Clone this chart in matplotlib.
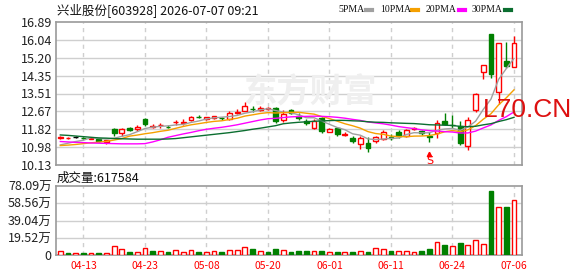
import matplotlib
matplotlib.use("Agg")
import matplotlib.pyplot as plt
from matplotlib.lines import Line2D
import numpy as np
import pandas as pd

plt.rcParams['font.family'] = ['Noto Sans CJK SC', 'DejaVu Sans']

# ---------------- data ----------------
dates = ["04-08", "04-09", "04-10", "04-13", "04-14", "04-15", "04-16", "04-17", "04-20", "04-21",
         "04-22", "04-23", "04-24", "04-27", "04-28", "04-29", "04-30", "05-06", "05-07", "05-08",
         "05-11", "05-12", "05-13", "05-14", "05-15", "05-18", "05-19", "05-20", "05-21", "05-22",
         "05-25", "05-26", "05-27", "05-28", "05-29", "06-01", "06-02", "06-03", "06-04", "06-05",
         "06-08", "06-09", "06-10", "06-11", "06-12", "06-15", "06-16", "06-17", "06-18", "06-22",
         "06-23", "06-24", "06-25", "06-26", "06-29", "06-30", "07-01", "07-02", "07-03", "07-06"]

open_ = [11.42, 11.41, 11.46, 11.41, 11.38, 11.35, 11.23, 11.82, 11.66, 11.90,
         11.82, 12.29, 11.93, 12.00, 11.93, 12.15, 12.10, 12.26, 12.40, 12.32,
         12.34, 12.36, 12.31, 12.58, 12.70, 12.80, 12.71, 12.79, 12.84, 12.25,
         12.71, 12.44, 12.22, 11.90, 12.33, 11.71, 11.87, 11.55, 11.40, 11.14,
         11.16, 11.25, 11.35, 11.45, 11.68, 11.48, 11.84, 11.75, 11.50, 11.63,
         12.22, 12.04, 11.97, 11.03, 12.73, 14.51, 16.32, 13.60, 15.05, 14.75]
high = [11.48, 11.47, 11.50, 11.45, 11.44, 11.38, 11.33, 11.90, 11.86, 11.93,
        12.04, 12.33, 12.05, 12.10, 12.02, 12.24, 12.30, 12.45, 12.50, 12.42,
        12.47, 12.40, 12.68, 12.77, 13.12, 12.92, 12.93, 12.88, 12.88, 12.72,
        12.76, 12.58, 12.30, 12.30, 12.40, 11.86, 11.93, 11.70, 11.48, 11.50,
        11.45, 11.52, 11.80, 11.60, 11.80, 11.82, 11.92, 11.80, 11.70, 12.25,
        12.60, 12.50, 12.22, 12.40, 13.55, 14.86, 16.33, 15.90, 15.95, 16.24]
low = [11.38, 11.37, 11.42, 11.36, 11.34, 11.22, 11.14, 11.50, 11.52, 11.76,
       11.76, 11.98, 11.88, 11.87, 11.86, 12.03, 12.02, 12.22, 12.33, 12.28,
       12.31, 12.28, 12.28, 12.52, 12.68, 12.64, 12.66, 12.72, 12.12, 12.16,
       12.55, 12.28, 12.00, 11.85, 11.66, 11.68, 11.50, 11.48, 11.15, 10.90,
       10.74, 11.18, 11.30, 11.33, 11.42, 11.45, 11.80, 11.55, 11.20, 11.40,
       12.00, 11.88, 11.07, 10.82, 12.65, 14.20, 14.22, 13.03, 14.70, 14.75]
close = [11.44, 11.43, 11.46, 11.39, 11.40, 11.25, 11.30, 11.64, 11.83, 11.80,
         11.95, 12.05, 11.96, 12.03, 11.91, 12.17, 12.18, 12.41, 12.38, 12.39,
         12.44, 12.33, 12.57, 12.63, 12.92, 12.77, 12.81, 12.82, 12.20, 12.55,
         12.60, 12.35, 12.11, 12.22, 11.76, 11.83, 11.60, 11.59, 11.25, 11.43,
         10.95, 11.44, 11.71, 11.41, 11.52, 11.78, 11.87, 11.65, 11.46, 12.13,
         12.05, 12.01, 11.19, 12.26, 13.48, 14.84, 14.44, 15.88, 14.80, 15.88]

# volume in 万 shares
volume = [4.5, 2.6, 2.6, 2.6, 2.6, 2.6, 2.6, 10.1, 6.8, 3.6,
          3.2, 7.9, 4.9, 4.5, 3.6, 5.6, 3.4, 5.3, 3.6, 3.2,
          4.5, 3.6, 5.6, 5.6, 8.6, 6.8, 4.5, 3.6, 6.8, 5.6,
          3.8, 4.9, 4.9, 4.5, 4.9, 3.4, 3.4, 3.4, 3.8, 4.5,
          3.8, 7.9, 6.8, 4.9, 4.5, 4.5, 3.4, 4.9, 6.8, 14.6,
          11.3, 10.1, 13.9, 11.3, 16.9, 12.4, 72.2, 54.2, 54.1, 61.7584]
# 1 = up volume (red), 0 = down volume (green)
vol_up = [1, 0, 1, 0, 1, 0, 1, 1, 1, 0,
          1, 1, 0, 1, 0, 1, 1, 1, 0, 1,
          1, 0, 1, 1, 1, 0, 1, 0, 0, 1,
          0, 0, 0, 1, 0, 1, 0, 1, 0, 1,
          0, 1, 1, 0, 1, 1, 1, 0, 0, 1,
          0, 1, 0, 1, 1, 1, 0, 1, 0, 1]

# moving-average values before each window is complete
ma5_head = [11.08, 11.16, 11.24, 11.30]
ma10_head = [11.05, 11.07, 11.10, 11.14, 11.18, 11.21, 11.25, 11.31, 11.38]
ma20_head = [11.24, 11.22, 11.20, 11.19, 11.17, 11.16, 11.15, 11.14, 11.13, 11.13,
             11.13, 11.14, 11.22, 11.32, 11.44, 11.52, 11.60, 11.67, 11.75]
ma30_head = [11.55, 11.53, 11.50, 11.47, 11.44, 11.41, 11.40, 11.38, 11.37, 11.36,
             11.35, 11.35, 11.35, 11.35, 11.36, 11.38, 11.42, 11.46, 11.50, 11.54,
             11.58, 11.62, 11.66, 11.71, 11.76, 11.82, 11.87, 11.93, 11.99]

price_tick_labels = ["10.13", "10.98", "11.82", "12.67", "13.51", "14.35", "15.20", "16.04", "16.89"]
vol_tick_labels = ["0", "19.52万", "39.04万", "58.56万", "78.09万"]
x_tick_labels = ["04-13", "04-23", "05-08", "05-20", "06-01", "06-11", "06-24", "07-06"]
signal_idx = [48]
last_volume = 617584

title = "兴业股份[603928] 2026-07-07 09:21"
ma_names = ["5PMA", "10PMA", "20PMA", "30PMA"]
ma_colors = ["#a0a0a0", "#f5a000", "#ff00ff", "#0b6e30"]

# ---------------- figure ----------------
W, H = 578, 276
fig = plt.figure(figsize=(W / 100, H / 100), dpi=100)
fig.patch.set_facecolor("white")

def fx(px):
    return px / W

def fy(py):
    return 1 - py / H

L, R = 56, 522
ax = fig.add_axes([fx(L), fy(165), fx(R - L), (165 - 22) / H])
axv = fig.add_axes([fx(L), fy(255), fx(R - L), (255 - 186) / H])

n = len(close)
xs = np.arange(n)
RED = "#ff0000"
GREEN = "#008000"
GRID = "#cfcfcf"
SPINE = "#9a9a9a"

price_ticks = [float(t) for t in price_tick_labels]
vol_ticks = [float(t.replace("万", "")) for t in vol_tick_labels]
xtick_pos = [dates.index(d) for d in x_tick_labels]

for a in (ax, axv):
    a.set_xlim(-0.56, n + 0.04)
    for s in a.spines.values():
        s.set_color(SPINE)
        s.set_linewidth(1.2)
    for p in xtick_pos:
        a.axvline(p, color=GRID, lw=1, ls=(0, (3, 3)), zorder=0)
    a.tick_params(length=0, pad=3)

ax.set_ylim(price_ticks[0], price_ticks[-1])
ax.set_yticks(price_ticks)
ax.set_yticklabels(price_tick_labels, fontsize=9, color="#222222")
ax.set_xticks([])
for t in price_ticks[1:-1]:
    ax.axhline(t, color=GRID, lw=1, zorder=0)

# watermark
ax.text(0.545, 0.505, "东方财富", transform=ax.transAxes, fontsize=24, fontweight="bold",
        color="#efefef", ha="center", va="center", zorder=0)

# candles
bw = 0.62
for i in xs:
    o, h, l, c = open_[i], high[i], low[i], close[i]
    if c > o:
        col, face = RED, "white"
    elif c < o:
        col, face = GREEN, GREEN
    else:
        col, face = "#000000", "#000000"
    ax.vlines(i, l, h, color=col, lw=1, zorder=2)
    bottom = min(o, c)
    height = max(abs(c - o), 0.004)
    ax.bar(i, height, bottom=bottom, width=bw, facecolor=face, edgecolor=col, lw=1, zorder=3)

# moving averages
s = pd.Series(close)
for win, head, col in zip([5, 10, 20, 30], [ma5_head, ma10_head, ma20_head, ma30_head], ma_colors):
    ma = s.rolling(win).mean().to_numpy()
    ma[:len(head)] = head
    ax.plot(xs, ma, color=col, lw=1, zorder=4)

# signal marker
for i in signal_idx:
    ax.plot(i, 10.63, marker="^", ms=3.2, color=RED, zorder=5, clip_on=False)
    ax.text(i, 10.33, "S", color=RED, fontsize=8, ha="center", va="center", zorder=5,
            family="DejaVu Sans")

# volume
axv.set_ylim(vol_ticks[0], vol_ticks[-1])
axv.set_yticks(vol_ticks)
axv.set_yticklabels(vol_tick_labels, fontsize=9, color="#222222")
for t in vol_ticks[1:-1]:
    axv.axhline(t, color=GRID, lw=1, zorder=0)
for i in xs:
    if vol_up[i]:
        axv.bar(i, volume[i], width=bw, facecolor="white", edgecolor=RED, lw=1, zorder=3)
    else:
        axv.bar(i, volume[i], width=bw, facecolor=GREEN, edgecolor=GREEN, lw=1, zorder=3)
axv.set_xticks(xtick_pos)
axv.set_xticklabels(x_tick_labels, fontsize=7.5, color=RED)
axv.tick_params(axis="x", pad=4)

# texts
fig.text(fx(57), fy(10), title, fontsize=9, va="center", ha="left", color="#111111")
fig.text(fx(57), fy(178), "成交量:" + str(last_volume), fontsize=9, va="center", ha="left",
         color="#111111")

leg_x = [338, 380, 426, 472]
sw_x = [366, 412, 459, 505]
for name, col, lx, sx in zip(ma_names, ma_colors, leg_x, sw_x):
    fig.text(fx(lx), fy(10), name, fontsize=7, va="center", ha="left", color="#111111",
             family="Liberation Serif")
    fig.add_artist(Line2D([fx(sx), fx(sx + 6)], [fy(10), fy(10)], color=col, lw=3,
                          transform=fig.transFigure))

fig.text(fx(483), fy(117), "L70.CN", fontsize=19, color="#dd1010", va="baseline", ha="left",
         family="Liberation Sans")

fig.savefig("out.png", dpi=100)
